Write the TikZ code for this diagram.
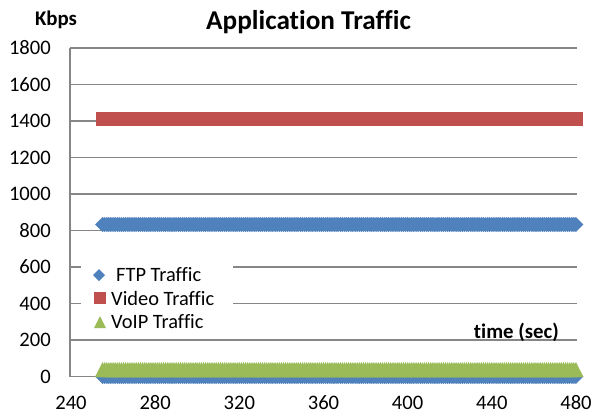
\documentclass[tikz,border=0pt]{standalone}
\usepackage{fontspec}
\setmainfont{Carlito}[Ligatures=CommonOff]
\definecolor{ftpblue}{HTML}{4F81BD}
\definecolor{vidred}{HTML}{C0504D}
\definecolor{voipgreen}{HTML}{9BBB59}
\definecolor{gridgray}{HTML}{868686}
\begin{document}
\begin{tikzpicture}[x=1pt,y=-1pt,
  gridline/.style={draw=gridgray,line width=1.2pt},
  axisline/.style={draw=gridgray,line width=1.2pt},
  ticklabel/.style={font=\fontsize{20.6}{24}\selectfont,inner sep=0pt},
  legendtext/.style={font=\fontsize{20.4}{24}\selectfont,inner sep=0pt,anchor=west},
  boldlabel/.style={font=\bfseries\fontsize{20.8}{24}\selectfont,inner sep=0pt},
  titlelabel/.style={font=\bfseries\fontsize{27.2}{31}\selectfont,inner sep=0pt}]
\useasboundingbox[fill=white] (0,0) rectangle (593,415);
% gridlines
\foreach \v in {200,400,...,1800}{
  \pgfmathsetmacro{\py}{376.5-\v*0.1825}
  \draw[gridline] (70,\py) -- (577,\py);
}
% axes
\draw[axisline] (70,47.5) -- (70,376.5) -- (577,376.5);
% y tick labels
\foreach \v in {0,200,...,1800}{
  \pgfmathsetmacro{\py}{376.5-\v*0.1825}
  \node[ticklabel,anchor=east] at (51,\py) {\v};
}
% x tick labels
\foreach \t in {240,280,...,480}{
  \pgfmathsetmacro{\px}{71+(\t-240)*2.104}
  \node[ticklabel] at (\px,403) {\t};
}
% titles
\node[titlelabel] (title) at (308.5,22) {Application Traffic};
\node[boldlabel] (kbps) at (56,20) {Kbps};
\node[boldlabel,anchor=east] (time) at (559,332) {time (sec)};
% FTP series at 833 and 0
\foreach \t in {255,...,480}{
  \pgfmathsetmacro{\px}{71+(\t-240)*2.104}
  \fill[ftpblue] (\px-7.5,224.5) -- (\px,217) -- (\px+7.5,224.5) -- (\px,232) -- cycle;
  \fill[ftpblue] (\px-7.5,376.5) -- (\px,369) -- (\px+7.5,376.5) -- (\px,384) -- cycle;
}
% Video series at 1410
\foreach \t in {255,...,480}{
  \pgfmathsetmacro{\px}{71+(\t-240)*2.104}
  \fill[vidred] (\px-7,112) rectangle (\px+7,126);
}
% VoIP series at 38
\foreach \t in {255,...,480}{
  \pgfmathsetmacro{\px}{71+(\t-240)*2.104}
  \fill[voipgreen] (\px-7.5,377) -- (\px,362) -- (\px+7.5,377) -- cycle;
}
% legend
\fill[white] (81,258) rectangle (233,335);
\fill[ftpblue] (93,275) -- (99,269) -- (105,275) -- (99,281) -- cycle;
\node[legendtext] (lftp) at (116,275) {FTP Traffic};
\fill[vidred] (94,292) rectangle (106,304);
\node[legendtext] (lvid) at (111,298) {Video Traffic};
\fill[voipgreen] (94,328) -- (100,316) -- (106,328) -- cycle;
\node[legendtext] (lvoip) at (111,322) {VoIP Traffic};
\end{tikzpicture}
\end{document}
